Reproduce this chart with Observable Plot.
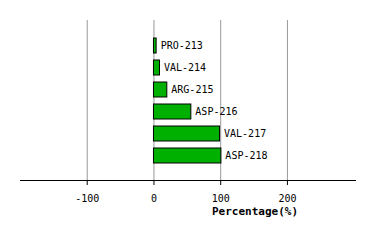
<!DOCTYPE html>
<html>
<head>
<meta charset="utf-8">
<script src="https://cdn.jsdelivr.net/npm/d3@7"></script>
<script src="https://cdn.jsdelivr.net/npm/@observablehq/plot@0.6"></script>
<style>
html,body{margin:0;padding:0;background:#fff;}
</style>
</head>
<body>
<div id="chart"></div>
<script>
const residues = ["PRO-213", "VAL-214", "ARG-215", "ASP-216", "VAL-217", "ASP-218"];
const percentages = [4, 9, 20, 56, 99, 101];
const xTicks = [-100, 0, 100, 200];
const xLabel = "Percentage(%)";

const data = residues.map((r, i) => ({residue: r, value: percentages[i]}));

const chart = Plot.plot({
  width: 374,
  height: 240,
  marginTop: 20,
  marginBottom: 60,
  marginLeft: 20,
  marginRight: 19,
  style: {fontFamily: "DejaVu Sans Mono", fontSize: "10px", background: "#fff"},
  x: {domain: [-200, 302]},
  y: {domain: residues, axis: null, insetTop: 13, insetBottom: 12, paddingInner: 0.33, paddingOuter: 0.165},
  marks: [
    Plot.ruleX(xTicks, {stroke: "#999", strokeWidth: 1}),
    Plot.barX(data, {x1: 0, x2: "value", y: "residue", fill: "#00b000", stroke: "#000", strokeWidth: 1}),
    Plot.text(data, {x: "value", y: "residue", text: "residue", dx: 4, textAnchor: "start", fill: "#000", fontSize: 10}),
    Plot.frame({anchor: "bottom", stroke: "#000"}),
    Plot.axisX({ticks: xTicks, tickSize: 5, tickPadding: 9, label: null, tickFormat: d => d === 0 ? "0" : String(d).replace("−", "-"), fontSize: 10, stroke: "#000"}),
    Plot.text([xLabel], {frameAnchor: "bottom", dx: 67, dy: 34, fontWeight: "bold", fontSize: 11, fill: "#000"})
  ]
});
document.getElementById("chart").appendChild(chart);
</script>
</body>
</html>
